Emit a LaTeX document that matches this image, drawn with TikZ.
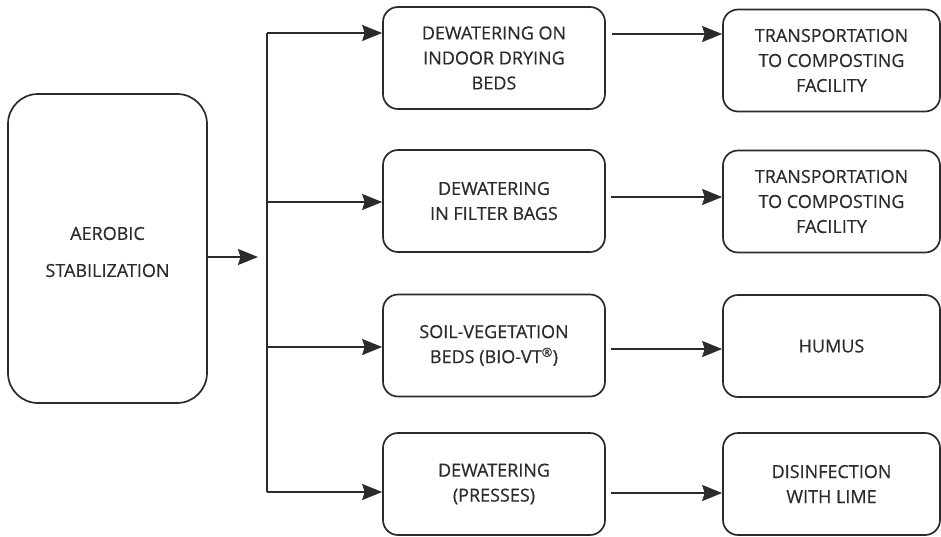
\documentclass[tikz,border=0pt]{standalone}
\usepackage{fontspec}
\setmainfont{Open Sans}[FakeBold=0.5]
\usetikzlibrary{arrows.meta}
\definecolor{ink}{HTML}{2B2B2B}
\begin{document}
\begin{tikzpicture}[x=1pt,y=-1pt,
  box/.style={draw=ink,line width=1.7pt,rounded corners=15pt,align=center,
    font=\fontsize{18}{25}\selectfont,text=ink,inner sep=0pt},
  bigbox/.style={box,rounded corners=30pt,minimum width=199pt,minimum height=309pt},
  midbox/.style={box,minimum width=222pt,minimum height=102pt},
  rbox/.style={box,minimum width=217pt,minimum height=102pt},
  arr/.style={draw=ink,line width=1.7pt,-{Stealth[length=20pt,width=16pt,inset=2.5pt]}},
  ln/.style={draw=ink,line width=1.7pt}]
\useasboundingbox (0,0) rectangle (941,536);
\node[bigbox] (L) at (107.5,248.5) {};
\node[align=center,font=\fontsize{18}{25}\selectfont,text=ink,inner sep=0pt] (Lt) at (107.5,252) {AEROBIC\\[12pt]STABILIZATION};
\node[midbox] (m1) at (494,58) {DEWATERING ON\\INDOOR DRYING\\BEDS};
\node[midbox] (m2) at (494,201) {DEWATERING\\IN FILTER BAGS};
\node[midbox] (m3) at (494,345.5) {SOIL-VEGETATION\\BEDS (BIO-VT\textsuperscript{®})};
\node[midbox] (m4) at (494,484) {DEWATERING\\(PRESSES)};
\node[rbox] (r1) at (831.5,60.5) {TRANSPORTATION\\TO COMPOSTING\\FACILITY};
\node[rbox] (r2) at (831.5,201.5) {TRANSPORTATION\\TO COMPOSTING\\FACILITY};
\node[rbox] (r3) at (831.5,346) {HUMUS};
\node[rbox] (r4) at (831.5,484) {DISINFECTION\\WITH LIME};
% trunk
\coordinate (t1) at (267,33);
\coordinate (t2) at (267,202);
\coordinate (t3) at (267,347);
\coordinate (t4) at (267,492);
\coordinate (jin) at (258,257);
\draw[ln] (t1) -- (t4);
\draw[arr] (L.east |- jin) -- (jin);
\draw[arr] (t1) -- (m1.west |- t1);
\draw[arr] (t2) -- (m2.west |- t2);
\draw[arr] (t3) -- (m3.west |- t3);
\draw[arr] (t4) -- (m4.west |- t4);
% outputs
\coordinate (o1) at (612,34);
\coordinate (o2) at (611,197);
\coordinate (o3) at (611,349);
\coordinate (o4) at (611,493);
\draw[arr] (o1) -- (r1.west |- o1);
\draw[arr] (o2) -- (r2.west |- o2);
\draw[arr] (o3) -- (r3.west |- o3);
\draw[arr] (o4) -- (r4.west |- o4);
\end{tikzpicture}
\end{document}
